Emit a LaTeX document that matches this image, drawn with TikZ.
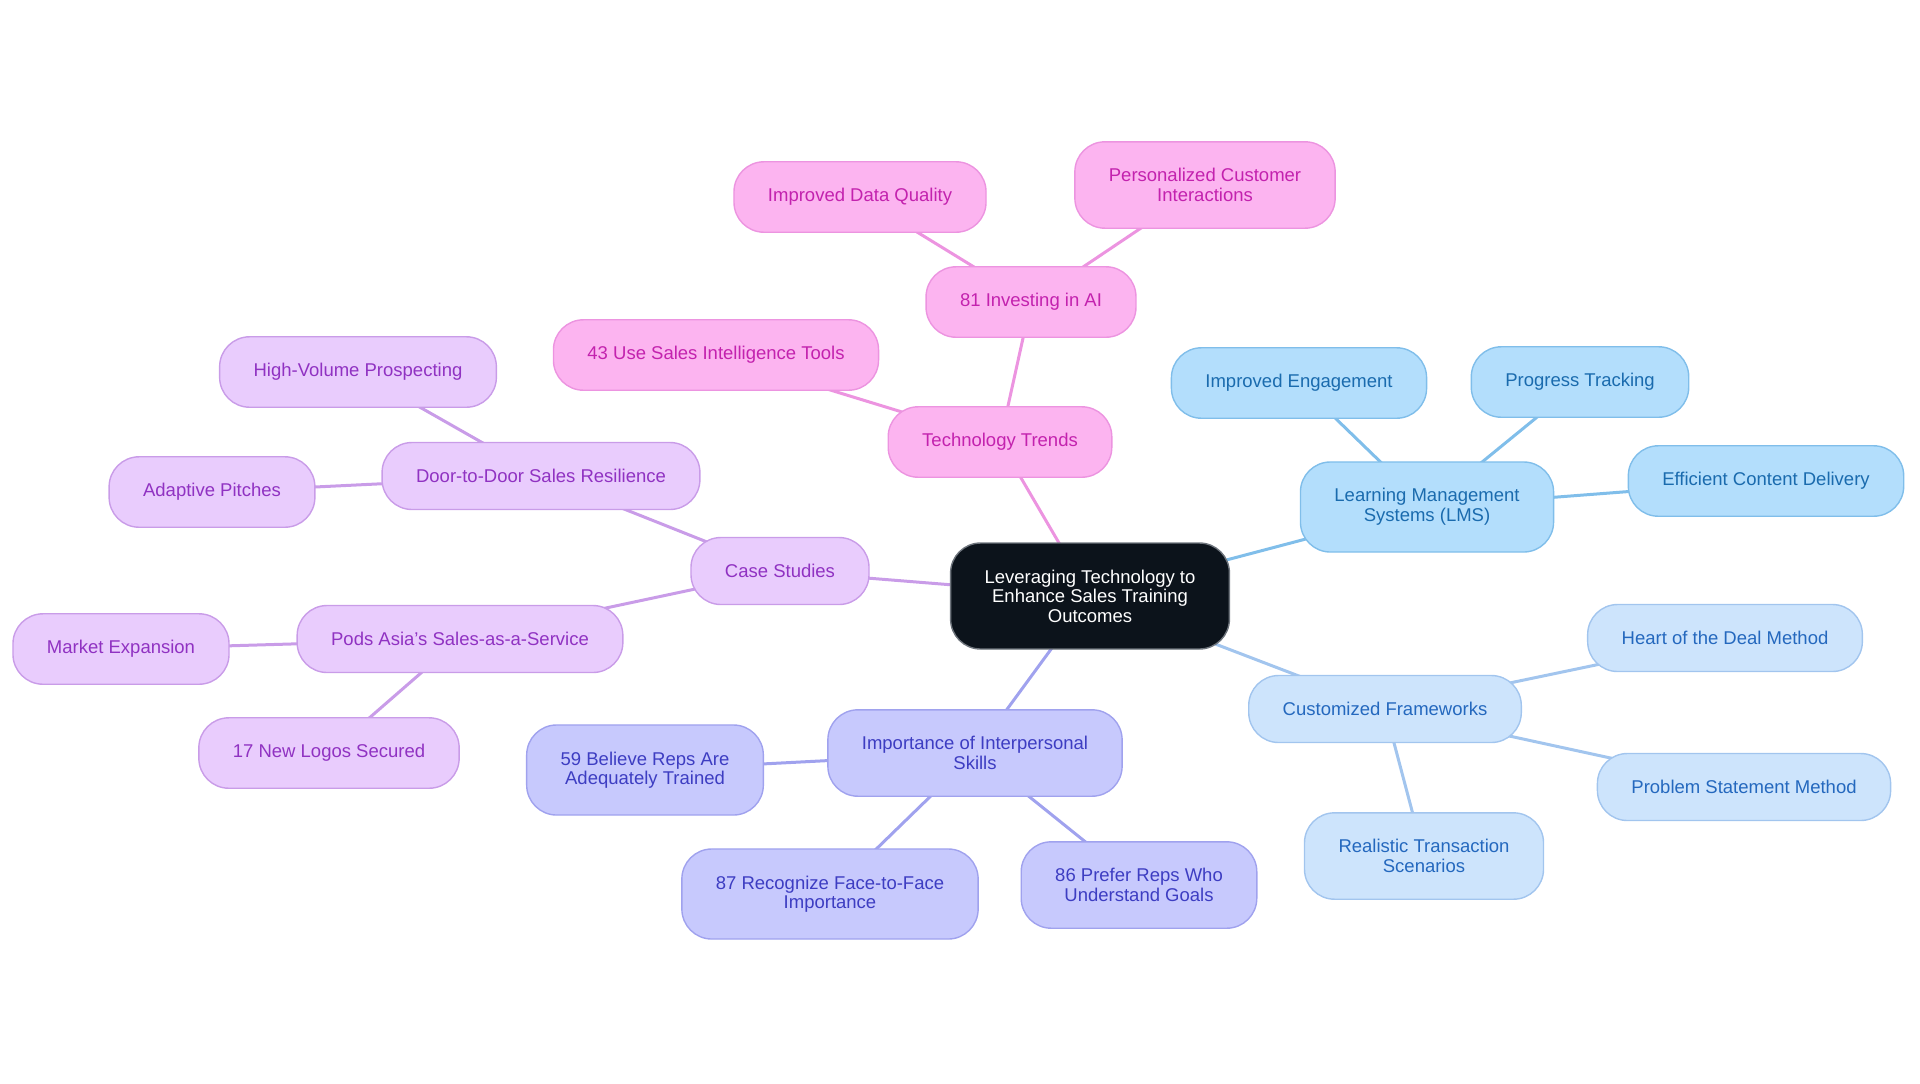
\documentclass[tikz,border=0pt]{standalone}
\usepackage{fontspec}
\setmainfont{Liberation Sans}
\usepackage{xcolor}
\usepackage{tikz}
\usetikzlibrary{backgrounds}
\definecolor{rootfill}{HTML}{0C131B}
\definecolor{rootline}{HTML}{6E747C}
\definecolor{pinkfill}{HTML}{FCB4F0}
\definecolor{pinkline}{HTML}{EC94E0}
\definecolor{pinktext}{HTML}{C322AE}
\definecolor{bluefill}{HTML}{B3DEFC}
\definecolor{blueline}{HTML}{80BEEA}
\definecolor{bluetext}{HTML}{1A6BAE}
\definecolor{skyfill}{HTML}{CDE4FC}
\definecolor{skyline}{HTML}{A2C5EE}
\definecolor{skytext}{HTML}{2468BE}
\definecolor{lavfill}{HTML}{C7C9FD}
\definecolor{lavline}{HTML}{A0A2EE}
\definecolor{lavtext}{HTML}{3D3DC2}
\definecolor{purpfill}{HTML}{E9CCFD}
\definecolor{purpline}{HTML}{C99CE8}
\definecolor{purptext}{HTML}{9032C2}
\tikzset{
  box/.style={rounded corners=15pt, line width=0.7pt, align=center,
    inner xsep=17pt, inner ysep=13.3pt, minimum height=33.5pt,
    font=\fontsize{9.25}{9.8}\selectfont},
  rootbox/.style={box, fill=rootfill, draw=rootline, text=white},
  pinkbox/.style={box, fill=pinkfill, draw=pinkline, text=pinktext},
  bluebox/.style={box, fill=bluefill, draw=blueline, text=bluetext},
  skybox/.style={box, fill=skyfill, draw=skyline, text=skytext},
  lavbox/.style={box, fill=lavfill, draw=lavline, text=lavtext},
  purpbox/.style={box, fill=purpfill, draw=purpline, text=purptext},
  link/.style={line width=1.5pt},
}

\begin{document}
\begin{tikzpicture}[x=0.5pt, y=-0.5pt]
  \useasboundingbox (0,0) rectangle (1920,1083);
  % centre
  \node[rootbox] (root) at (1090,596) {Leveraging Technology to\\Enhance Sales Training\\Outcomes};
  % technology trends
  \node[pinkbox] (tech) at (1000,442) {Technology Trends};
  \node[pinkbox] (ai) at (1031,302) {81 Investing in AI};
  \node[pinkbox] (dataq) at (860,197) {Improved Data Quality};
  \node[pinkbox] (persc) at (1205,185) {Personalized Customer\\Interactions};
  \node[pinkbox] (intel) at (716,355) {43 Use Sales Intelligence Tools};
  % lms
  \node[bluebox] (lms) at (1427,507) {Learning Management\\Systems (LMS)};
  \node[bluebox] (engage) at (1299,383) {Improved Engagement};
  \node[bluebox] (track) at (1580,382) {Progress Tracking};
  \node[bluebox] (deliv) at (1766,481) {Efficient Content Delivery};
  % frameworks
  \node[skybox] (frame) at (1385,709) {Customized Frameworks};
  \node[skybox] (heart) at (1725,638) {Heart of the Deal Method};
  \node[skybox] (problem) at (1744,787) {Problem Statement Method};
  \node[skybox] (real) at (1424,856) {Realistic Transaction\\Scenarios};
  % interpersonal skills
  \node[lavbox] (inter) at (975,753) {Importance of Interpersonal\\Skills};
  \node[lavbox] (believe) at (645,770) {59 Believe Reps Are\\Adequately Trained};
  \node[lavbox] (face) at (830,894) {87 Recognize Face-to-Face\\Importance};
  \node[lavbox] (prefer) at (1139,885) {86 Prefer Reps Who\\Understand Goals};
  % case studies
  \node[purpbox] (cases) at (780,571) {Case Studies};
  \node[purpbox] (door) at (541,476) {Door-to-Door Sales Resilience};
  \node[purpbox] (highvol) at (358,372) {High-Volume Prospecting};
  \node[purpbox] (adapt) at (212,492) {Adaptive Pitches};
  \node[purpbox] (pods) at (460,639) {Pods Asia's Sales-as-a-Service};
  \node[purpbox] (market) at (121,649) {Market Expansion};
  \node[purpbox] (logos) at (329,753) {17 New Logos Secured};
  \begin{pgfonlayer}{background}
    \draw[link, pinkline] (root.center) -- (tech.center);
    \foreach \a/\b in {tech/ai, ai/dataq, ai/persc, tech/intel}
      \draw[link, pinkline] (\a.center) -- (\b.center);
    \draw[link, blueline] (root.center) -- (lms.center);
    \foreach \b in {engage, track, deliv}
      \draw[link, blueline] (lms.center) -- (\b.center);
    \draw[link, skyline] (root.center) -- (frame.center);
    \foreach \b in {heart, problem, real}
      \draw[link, skyline] (frame.center) -- (\b.center);
    \draw[link, lavline] (root.center) -- (inter.center);
    \foreach \b in {believe, face, prefer}
      \draw[link, lavline] (inter.center) -- (\b.center);
    \draw[link, purpline] (root.center) -- (cases.center);
    \foreach \a/\b in {cases/door, door/highvol, door/adapt, cases/pods, pods/market, pods/logos}
      \draw[link, purpline] (\a.center) -- (\b.center);
  \end{pgfonlayer}
\end{tikzpicture}
\end{document}
